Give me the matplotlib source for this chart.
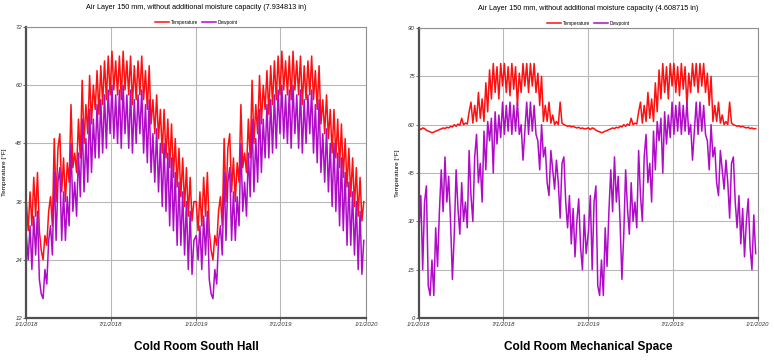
"""
Cold room simulation charts: temperature and dewpoint, 2018-2019
"""
import numpy as np
import pandas as pd
import matplotlib
matplotlib.use('Agg')
import matplotlib.pyplot as plt

plt.rcParams['font.family'] = ['Liberation Sans', 'DejaVu Sans']

# values read every 4 days over one simulated year (same weather year repeats in 2019)
temp_south_hall = [
    36, 30, 38, 31, 41, 33, 42, 30, 26, 24, 29, 27, 34, 37, 31, 49, 36, 47, 50, 38,
    45, 36, 44, 40, 56, 43, 46, 42, 53, 45, 61, 48, 56, 50, 62, 52, 60, 55, 63, 54,
    64, 56, 65, 57, 66, 58, 67, 59, 65, 58, 66, 57, 67, 59, 65, 58, 66, 56, 64, 57,
    65, 58, 66, 57, 63, 55, 64, 52, 57, 50, 58, 49, 55, 46, 55, 45, 53, 43, 52, 41,
    49, 39, 47, 37, 45, 35, 43, 33, 41, 32, 36,
]
dew_south_hall = [
    29, 24, 31, 22, 33, 25, 34, 20, 17, 16, 22, 19, 28, 31, 25, 42, 28, 40, 43, 28,
    38, 28, 37, 31, 48, 34, 40, 33, 46, 37, 53, 38, 49, 40, 55, 42, 53, 45, 56, 45,
    57, 46, 58, 47, 59, 50, 60, 49, 58, 48, 59, 47, 60, 50, 58, 47, 59, 46, 57, 48,
    58, 50, 59, 46, 56, 44, 57, 42, 50, 40, 51, 38, 48, 35, 48, 34, 46, 31, 45, 30,
    42, 27, 40, 27, 38, 25, 36, 22, 34, 21, 28,
]
temp_mech_space = [
    59, 58.5, 59, 58.8, 58.3, 58, 57.8, 57.5, 57.7, 58, 58.2, 58.5, 58.7, 59, 58.8,
    59.2, 59, 59.5, 59.3, 60, 59.5, 60.2, 59.8, 62, 60, 60.5, 60.2, 64, 67, 60.5,
    66, 61, 70, 62, 68, 61, 73, 64, 77, 68, 79, 70, 78, 68, 79, 72, 79, 70, 78, 69,
    79, 71, 78, 66, 76, 70, 79, 72, 79, 70, 79, 72, 79, 70, 76, 66, 75, 61, 66, 61,
    67, 60.5, 63, 60, 61, 60, 67, 60.5, 60, 59.8, 59.5, 59.7, 59.3, 59.5, 59.2, 59,
    59.2, 58.8, 59, 58.7, 58.8,
]
dew_mech_space = [
    27, 38, 15, 36, 41, 10, 7, 18, 7, 28, 16, 33, 46, 33, 50, 36, 44, 30, 12, 26,
    46, 34, 26, 42, 30, 36, 28, 52, 38, 30, 50, 57, 42, 48, 36, 58, 46, 61, 55, 62,
    45, 64, 54, 63, 56, 67, 57, 66, 58, 67, 57, 66, 58, 67, 57, 60, 49, 58, 67, 57,
    67, 58, 66, 57, 55, 46, 60, 50, 53, 42, 38, 52, 46, 40, 49, 42, 31, 48, 50, 36,
    28, 38, 23, 34, 19, 30, 37, 22, 15, 32, 20,
]

x_tick_dates = ['2018-01-01', '2018-07-01', '2019-01-01', '2019-07-01', '2020-01-01']
x_tick_labels = ['1/1/2018', '7/1/2018', '1/1/2019', '7/1/2019', '1/1/2020']
south_yticks = [12, 24, 36, 48, 60, 72]
mech_yticks = [0, 15, 30, 45, 60, 75, 90]

n = len(temp_south_hall)
dates = pd.date_range('2018-01-01', periods=n, freq='4D').append(
    pd.date_range('2019-01-01', periods=n, freq='4D'))

TEMP_COLOR = '#ff1010'
DEW_COLOR = '#b00cc8'

fig = plt.figure(figsize=(7.74, 3.62), dpi=100)
fig.patch.set_facecolor('white')

panels = [
    dict(rect=[0.034, 0.1215, 0.439, 0.804], temp=temp_south_hall, dew=dew_south_hall,
         yticks=south_yticks, title='Air Layer 150 mm, without additional moisture capacity (7.934813 in)',
         caption='Cold Room South Hall'),
    dict(rect=[0.5413, 0.1215, 0.438, 0.801], temp=temp_mech_space, dew=dew_mech_space,
         yticks=mech_yticks, title='Air Layer 150 mm, without additional moisture capacity (4.608715 in)',
         caption='Cold Room Mechanical Space'),
]

for p in panels:
    ax = fig.add_axes(p['rect'])
    temp = np.concatenate([p['temp'], p['temp']])
    dew = np.concatenate([p['dew'], p['dew']])
    ax.plot(dates, temp, color=TEMP_COLOR, lw=1.1, label='Temperature')
    ax.plot(dates, dew, color=DEW_COLOR, lw=1.1, label='Dewpoint')

    ticks = pd.to_datetime(x_tick_dates)
    ax.set_xlim(ticks[0], ticks[-1])
    ax.set_xticks(ticks)
    ax.set_xticklabels(x_tick_labels, fontsize=4.3, fontstyle='italic')
    ax.set_ylim(p['yticks'][0], p['yticks'][-1])
    ax.set_yticks(p['yticks'])
    ax.set_yticklabels([str(v) for v in p['yticks']], fontsize=4.3, fontstyle='italic')
    ax.tick_params(length=2, width=0.5, pad=1, colors='#333333')
    ax.set_ylabel('Temperature [°F]', fontsize=4.6, labelpad=6)
    ax.grid(True, color='#b8b8b8', lw=0.8)
    ax.set_axisbelow(True)

    for side in ['top', 'right']:
        ax.spines[side].set_color('#909090')
        ax.spines[side].set_linewidth(0.8)
    for side in ['left', 'bottom']:
        ax.spines[side].set_color('#505050')
        ax.spines[side].set_linewidth(1.6)

    ax.text(0.5, 1.068, p['title'], transform=ax.transAxes, ha='center', va='center', fontsize=5.2)
    ax.legend(loc='lower center', bbox_to_anchor=(0.5, 1.005), ncol=2, fontsize=3.4,
              frameon=False, handlelength=3, handletextpad=0.4, columnspacing=0.8,
              borderaxespad=0, borderpad=0.2)
    ax.text(0.5, -0.1, p['caption'], transform=ax.transAxes, ha='center', va='center',
            fontsize=8.5, fontweight='bold')

fig.savefig('out.png', dpi=100)
plt.close(fig)
